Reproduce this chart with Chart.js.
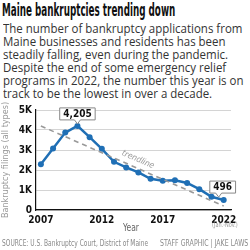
<!DOCTYPE html>
<html>
<head>
<meta charset="utf-8">
<script src="https://cdn.jsdelivr.net/npm/chart.js@4"></script>
<style>
  body { margin: 0; width: 250px; height: 250px; overflow: hidden; background: #fff; position: relative; }
  .t { position: absolute; white-space: nowrap; transform-origin: 0 0; }
  #title { left: 2px; top: 0px; font: bold 17px "DejaVu Sans Condensed", "Liberation Sans", sans-serif; color: #111; }
  #sub { left: 3px; top: 23px; font: 12px "Open Sans", sans-serif; color: #333; line-height: 12.9px; }
  #chartBox { position: absolute; left: 0; top: 100px; width: 250px; height: 130px; }
  #yr { left: 123px; top: 222px; font: 10px "DejaVu Sans Condensed", sans-serif; color: #666; }
  #jan { left: 212px; top: 221px; font: 7px "DejaVu Sans Condensed", sans-serif; color: #999; }
  #src { left: 2px; top: 238px; font: 9px "DejaVu Sans Condensed", sans-serif; color: #888; }
  #cred { left: 160px; top: 238px; font: 9px "DejaVu Sans Condensed", sans-serif; color: #888; }
</style>
</head>
<body>
<div class="t" id="title">Maine bankruptcies trending down</div>
<div class="t" id="sub">The number of bankruptcy applications from<br>Maine businesses and residents has been<br>steadily falling, even during the pandemic.<br>Despite the end of some emergency relief<br>programs in 2022, the number this year is on<br>track to be the lowest in over a decade.</div>
<div id="chartBox"><canvas id="c"></canvas></div>
<div class="t" id="yr">Year</div>
<div class="t" id="jan">(Jan.-Nov.)</div>
<div class="t" id="src">SOURCE: U.S. Bankruptcy Court, District of Maine</div>
<div class="t" id="cred">STAFF GRAPHIC | JAKE LAWS</div>
<script>
const years = [2007, 2008, 2009, 2010, 2011, 2012, 2013, 2014, 2015, 2016, 2017, 2018, 2019, 2020, 2021, 2022];
const filings = [2290, 3070, 3870, 4205, 3640, 3060, 2410, 2130, 1880, 1560, 1460, 1490, 1350, 1040, 660, 496];
const trendYears = [2007, 2022];
const trendValues = [4200, 200];
const xTicks = [2007, 2012, 2017, 2022];
const yTicks = [0, 1000, 2000, 3000, 4000, 5000];
const callouts = [3, 15]; // indexes that get a value box

const blue = '#1f6fb5';
const narrow = '"DejaVu Sans Condensed", sans-serif';

// squeeze text blocks to the widths they have in the print graphic
function fitWidth(id, w) {
  const el = document.getElementById(id);
  el.style.transform = 'scaleX(' + (w / el.offsetWidth) + ')';
}
fitWidth('title', 173);
fitWidth('sub', 240);
fitWidth('src', 146);
fitWidth('cred', 88);
fitWidth('yr', 16);
fitWidth('jan', 26);

const calloutPlugin = {
  id: 'callouts',
  afterDatasetsDraw(chart) {
    const ctx = chart.ctx;
    const pts = chart.getDatasetMeta(1).data;
    ctx.save();
    ctx.font = 'bold 10px ' + narrow;
    ctx.textAlign = 'center';
    ctx.textBaseline = 'middle';
    callouts.forEach((i, n) => {
      const p = pts[i];
      const label = filings[i].toLocaleString('en-US');
      const w = ctx.measureText(label).width + 7;
      const h = 12;
      let cx, top, tipX;
      if (n === 0) { cx = p.x; top = p.y - 18; tipX = p.x; }
      else { cx = p.x - 1; top = p.y - 19; tipX = p.x - 5; }
      ctx.beginPath();
      ctx.moveTo(cx - w / 2, top);
      ctx.lineTo(cx + w / 2, top);
      ctx.lineTo(cx + w / 2, top + h);
      ctx.lineTo(tipX + 3, top + h);
      ctx.lineTo(tipX, top + h + 4);
      ctx.lineTo(tipX - 3, top + h);
      ctx.lineTo(cx - w / 2, top + h);
      ctx.closePath();
      ctx.fillStyle = '#fff';
      ctx.fill();
      ctx.strokeStyle = '#888';
      ctx.lineWidth = 1;
      ctx.stroke();
      ctx.fillStyle = '#111';
      ctx.fillText(label, cx, top + h / 2 + 0.5);
    });
    // trendline label
    const t = chart.getDatasetMeta(0).data;
    const a = t[0], b = t[1];
    const ang = Math.atan2(b.y - a.y, b.x - a.x);
    const fx = 0.52;
    const lx = a.x + (b.x - a.x) * fx, ly = a.y + (b.y - a.y) * fx;
    ctx.translate(lx + 2, ly - 8);
    ctx.rotate(ang);
    ctx.font = 'italic 8.5px ' + narrow;
    ctx.fillStyle = '#999';
    ctx.fillText('trendline', 0, 0);
    ctx.restore();
  }
};

new Chart(document.getElementById('c'), {
  type: 'line',
  data: {
    datasets: [
      {
        label: 'Trend',
        data: trendYears.map((x, i) => ({ x, y: trendValues[i] })),
        borderColor: '#999',
        borderWidth: 1.6,
        borderDash: [5, 4],
        pointRadius: 0
      },
      {
        label: 'Filings',
        data: years.map((x, i) => ({ x, y: filings[i] })),
        borderColor: blue,
        backgroundColor: blue,
        borderWidth: 2.5,
        pointRadius: 3,
        pointBorderWidth: 0
      }
    ]
  },
  options: {
    responsive: true,
    maintainAspectRatio: false,
    animation: false,
    layout: { padding: { top: 10, right: 19, bottom: 0, left: 0 } },
    plugins: { legend: { display: false }, tooltip: { enabled: false } },
    scales: {
      x: {
        type: 'linear',
        min: 2006.6,
        max: 2022.6,
        afterBuildTicks: s => { s.ticks = xTicks.map(v => ({ value: v })); },
        grid: { display: false, drawTicks: false },
        border: { color: '#111', width: 1.2 },
        ticks: {
          color: '#111',
          padding: 4,
          maxRotation: 0,
          font: { family: narrow, size: 10, weight: 'bold' },
          callback: v => String(v)
        }
      },
      y: {
        min: 0,
        max: 5000,
        afterBuildTicks: s => { s.ticks = yTicks.map(v => ({ value: v })); },
        afterFit: s => { s.width = 36; },
        grid: { color: '#d4d4d4', lineWidth: 1, drawTicks: false },
        border: { color: '#111', width: 1.2 },
        title: {
          display: true,
          text: 'Bankruptcy filings (all types)',
          color: '#999',
          padding: { top: 0, bottom: 0 },
          font: { family: narrow, size: 9 }
        },
        ticks: {
          color: '#111',
          padding: 4,
          font: { family: narrow, size: 10, weight: 'bold' },
          callback: v => v === 0 ? '0' : (v / 1000) + 'K'
        }
      }
    }
  },
  plugins: [calloutPlugin]
});
</script>
</body>
</html>
